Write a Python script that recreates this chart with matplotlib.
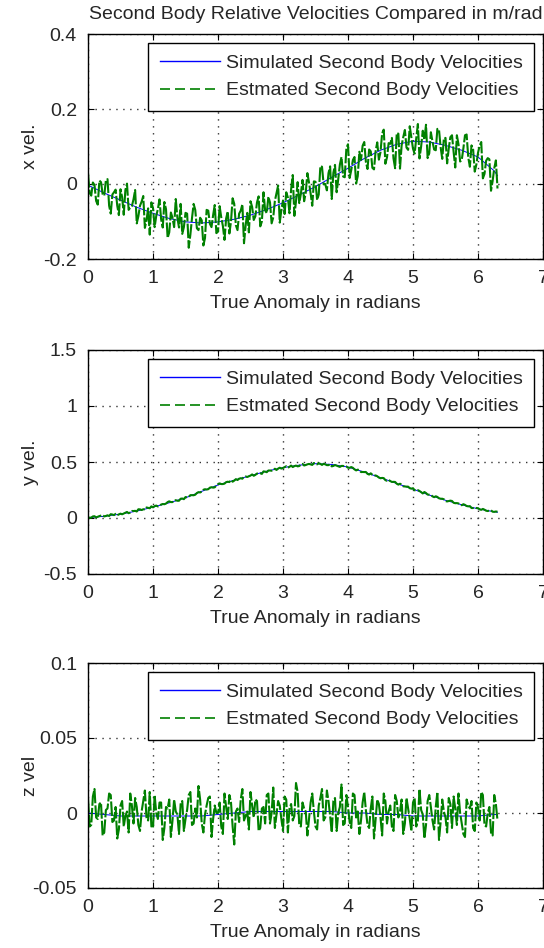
import matplotlib.pyplot as plt
import numpy as np
from matplotlib.lines import Line2D
from matplotlib.ticker import FormatStrFormatter

plt.rcParams["font.family"] = ["Liberation Sans", "DejaVu Sans"]

TITLE = "Second Body Relative Velocities Compared in m/rad"
XLABEL = "True Anomaly in radians"
LEGEND = ["Simulated Second Body Velocities", "Estmated Second Body Velocities"]

# simulated (smooth) curves, sampled every 0.25 rad plus the end point
sim_theta = [0.0, 0.25, 0.5, 0.75, 1.0, 1.25, 1.5, 1.75, 2.0, 2.25, 2.5, 2.75, 3.0,
             3.25, 3.5, 3.75, 4.0, 4.25, 4.5, 4.75, 5.0, 5.25, 5.5, 5.75, 6.0, 6.25, 6.3]
sim_x = [-0.003, -0.024, -0.043, -0.062, -0.078, -0.092, -0.101, -0.104, -0.101,
         -0.094, -0.083, -0.068, -0.050, -0.029, -0.007, 0.018, 0.042, 0.068, 0.090,
         0.106, 0.114, 0.112, 0.103, 0.090, 0.072, 0.035, 0.022]
sim_y = [0.004, 0.015, 0.035, 0.062, 0.097, 0.136, 0.180, 0.238, 0.295, 0.338, 0.378,
         0.418, 0.450, 0.472, 0.485, 0.478, 0.455, 0.410, 0.360, 0.308, 0.258, 0.205,
         0.158, 0.118, 0.082, 0.056, 0.052]
sim_z = [0.000, -0.001, -0.002, -0.002, -0.002, -0.002, -0.002, -0.002, -0.001, 0.000,
         0.001, 0.001, 0.001, 0.001, 0.001, 0.001, 0.000, 0.000, -0.001, -0.001, -0.002,
         -0.002, -0.002, -0.002, -0.002, -0.001, -0.001]

# estimated (noisy) curves: samples on every 0.05 rad (..._on) and the ones
# half-way between them (..._mid), 0 to 6.3 rad
est_x_on = [
    0.029, -0.031, -0.003, -0.055, 0.005, -0.031, 0.013, -0.079, -0.022, -0.058,
    -0.014, -0.082, 0.001, -0.063, -0.041, -0.105, -0.058, -0.032, -0.097, -0.135,
    -0.064, -0.085, -0.041, -0.116, -0.067, -0.129, -0.090, -0.040, -0.116, -0.133,
    -0.077, -0.170, -0.091, -0.069, -0.123, -0.097, -0.144, -0.071, -0.115, -0.056,
    -0.127, -0.089, -0.149, -0.073, -0.100, -0.053, -0.123, -0.071, -0.158, -0.077,
    -0.046, -0.096, -0.049, -0.113, -0.022, -0.078, -0.049, -0.089, -0.025, -0.103,
    -0.044, -0.022, -0.078, 0.024, -0.046, -0.051, 0.011, -0.023, 0.004, -0.058,
    0.006, -0.028, 0.046, 0.000, 0.029, -0.040, 0.051, 0.013, 0.072, 0.018,
    0.106, 0.037, 0.072, 0.021, 0.064, 0.112, 0.040, 0.087, 0.039, 0.111,
    0.085, 0.145, 0.071, 0.107, 0.068, 0.136, 0.041, 0.125, 0.097, 0.154,
    0.094, 0.122, 0.068, 0.142, 0.158, 0.082, 0.113, 0.090, 0.145, 0.067,
    0.123, 0.095, 0.130, 0.044, 0.106, 0.064, 0.130, 0.071, 0.103, 0.033,
    0.083, 0.112, 0.027, 0.069, -0.018, 0.042, -0.012,
]
est_x_mid = [
    -0.024, 0.004, -0.045, 0.009, -0.027, 0.010, -0.058, -0.028, -0.015, -0.083,
    -0.035, -0.016, -0.069, -0.059, -0.016, -0.086, -0.047, -0.117, -0.065, -0.049,
    -0.115, -0.067, -0.094, -0.048, -0.144, -0.076, -0.115, -0.090, -0.053, -0.115,
    -0.079, -0.135, -0.053, -0.118, -0.090, -0.164, -0.069, -0.106, -0.083, -0.131,
    -0.059, -0.112, -0.092, -0.132, -0.038, -0.110, -0.079, -0.054, -0.111, -0.129,
    -0.061, -0.086, -0.033, -0.100, -0.070, -0.034, -0.105, -0.045, -0.004, -0.069,
    -0.080, -0.036, -0.014, -0.085, 0.005, -0.026, -0.046, 0.029, -0.025, 0.007,
    -0.043, 0.048, -0.001, -0.017, 0.047, 0.030, -0.022, 0.052, 0.020, 0.096,
    0.016, 0.064, 0.001, 0.086, 0.102, 0.059, 0.092, 0.043, 0.088, 0.065,
    0.135, 0.054, 0.109, 0.123, 0.042, 0.134, 0.103, 0.144, 0.091, 0.123,
    0.081, 0.160, 0.100, 0.118, 0.069, 0.138, 0.092, 0.147, 0.098, 0.122,
    0.055, 0.125, 0.085, 0.130, 0.060, 0.095, 0.132, 0.046, 0.092, 0.052,
    0.102, 0.015, 0.062, 0.066, 0.008, 0.063,
]
est_y_on = [
    0.007, 0.003, 0.016, 0.011, 0.021, 0.014, 0.024, 0.034, 0.026, 0.025,
    0.039, 0.040, 0.054, 0.049, 0.062, 0.058, 0.077, 0.078, 0.094, 0.087,
    0.095, 0.111, 0.108, 0.125, 0.129, 0.149, 0.142, 0.159, 0.154, 0.174,
    0.187, 0.189, 0.204, 0.208, 0.231, 0.236, 0.257, 0.257, 0.275, 0.274,
    0.301, 0.303, 0.307, 0.324, 0.339, 0.334, 0.339, 0.355, 0.368, 0.366,
    0.379, 0.377, 0.397, 0.399, 0.416, 0.409, 0.424, 0.426, 0.429, 0.449,
    0.447, 0.462, 0.457, 0.455, 0.468, 0.464, 0.483, 0.473, 0.483, 0.474,
    0.487, 0.489, 0.474, 0.479, 0.472, 0.461, 0.473, 0.461, 0.465, 0.459,
    0.449, 0.455, 0.434, 0.432, 0.410, 0.410, 0.394, 0.399, 0.378, 0.373,
    0.355, 0.356, 0.332, 0.330, 0.323, 0.306, 0.306, 0.283, 0.280, 0.266,
    0.266, 0.244, 0.241, 0.219, 0.223, 0.208, 0.193, 0.194, 0.176, 0.172,
    0.151, 0.151, 0.152, 0.132, 0.130, 0.114, 0.117, 0.104, 0.089, 0.093,
    0.088, 0.073, 0.074, 0.062, 0.069, 0.055, 0.056,
]
est_y_mid = [
    0.002, 0.014, 0.005, 0.017, 0.026, 0.018, 0.018, 0.031, 0.037, 0.032,
    0.033, 0.047, 0.043, 0.063, 0.064, 0.078, 0.071, 0.076, 0.091, 0.104,
    0.106, 0.103, 0.120, 0.123, 0.142, 0.142, 0.157, 0.154, 0.172, 0.168,
    0.184, 0.204, 0.203, 0.223, 0.228, 0.252, 0.254, 0.271, 0.271, 0.291,
    0.309, 0.303, 0.320, 0.321, 0.324, 0.347, 0.351, 0.351, 0.371, 0.372,
    0.389, 0.385, 0.397, 0.394, 0.414, 0.424, 0.422, 0.440, 0.441, 0.441,
    0.455, 0.449, 0.468, 0.463, 0.461, 0.476, 0.469, 0.479, 0.478, 0.491,
    0.479, 0.483, 0.484, 0.472, 0.481, 0.465, 0.467, 0.456, 0.465, 0.460,
    0.448, 0.448, 0.425, 0.426, 0.411, 0.411, 0.388, 0.386, 0.380, 0.361,
    0.358, 0.338, 0.340, 0.322, 0.322, 0.298, 0.298, 0.281, 0.280, 0.262,
    0.248, 0.249, 0.231, 0.232, 0.209, 0.206, 0.186, 0.188, 0.172, 0.167,
    0.148, 0.155, 0.136, 0.133, 0.119, 0.123, 0.107, 0.106, 0.089, 0.089,
    0.077, 0.081, 0.065, 0.067, 0.056, 0.058,
]
est_z_on = [
    0.010, -0.008, 0.016, -0.004, 0.007, -0.013, 0.003, 0.012, -0.005, -0.017,
    0.005, -0.009, 0.001, 0.013, -0.007, 0.004, -0.012, 0.008, -0.003, 0.014,
    -0.010, 0.000, 0.007, -0.018, 0.004, 0.009, -0.005, 0.001, -0.014, 0.008,
    -0.004, 0.012, -0.008, 0.003, 0.018, -0.007, -0.001, 0.010, -0.016, 0.005,
    0.000, -0.009, 0.013, -0.004, 0.007, -0.021, 0.003, 0.009, -0.005, 0.001,
    0.014, -0.003, 0.008, -0.010, 0.004, 0.012, -0.007, 0.017, -0.001, 0.005,
    -0.012, 0.009, 0.003, -0.005, 0.020, -0.008, 0.007, 0.001, -0.004, 0.013,
    -0.009, 0.005, 0.016, -0.003, 0.008, -0.013, 0.010, 0.000, 0.019, -0.007,
    0.004, -0.010, 0.012, 0.001, -0.005, 0.014, -0.008, 0.003, -0.017, 0.009,
    -0.003, 0.013, -0.007, 0.005, -0.012, 0.008, 0.001, -0.014, 0.010, -0.004,
    0.007, -0.009, 0.016, -0.001, -0.008, 0.012, -0.005, 0.004, -0.018, 0.009,
    -0.003, 0.010, -0.010, 0.003, 0.013, -0.007, -0.016, 0.005, 0.008, -0.012,
    0.004, 0.014, -0.008, 0.000, -0.013, 0.012, -0.005,
]
est_z_mid = [
    -0.009, 0.011, -0.003, 0.006, -0.015, 0.002, 0.013, -0.006, 0.004, -0.011,
    0.008, -0.002, -0.013, 0.005, 0.010, -0.008, 0.001, 0.015, -0.005, -0.009,
    0.012, -0.004, 0.007, -0.010, 0.003, -0.016, 0.009, -0.001, 0.006, -0.012,
    0.002, 0.014, -0.007, -0.003, 0.009, -0.013, 0.005, 0.011, -0.004, 0.000,
    0.007, -0.014, 0.004, 0.012, -0.009, 0.001, -0.006, 0.016, -0.002, -0.011,
    0.005, 0.009, -0.012, 0.003, -0.007, 0.013, 0.000, -0.010, 0.008, -0.004,
    0.011, -0.013, 0.006, -0.002, 0.014, -0.009, 0.003, -0.015, 0.007, 0.001,
    -0.011, 0.010, -0.005, 0.015, -0.002, 0.008, -0.012, 0.004, -0.008, 0.012,
    -0.006, 0.013, -0.003, -0.014, 0.007, 0.002, -0.010, 0.011, -0.004, 0.006,
    -0.015, 0.008, 0.001, -0.009, 0.012, -0.003, 0.009, -0.007, 0.003, -0.012,
    0.010, -0.005, 0.002, -0.017, 0.008, 0.004, -0.011, 0.014, -0.006, 0.001,
    -0.013, 0.006, 0.011, -0.008, 0.000, -0.014, 0.009, 0.003, -0.010, 0.007,
    -0.005, 0.012, -0.009, 0.004, -0.015, 0.006,
]


def merge(on, mid):
    out = np.empty(len(on) + len(mid))
    out[0::2] = on
    out[1::2] = mid
    return out


est_theta = np.linspace(0, 6.3, 253)
panels = [
    ("x vel.", sim_x, merge(est_x_on, est_x_mid), (-0.2, 0.4), [-0.2, 0, 0.2, 0.4]),
    ("y vel.", sim_y, merge(est_y_on, est_y_mid), (-0.5, 1.5), [-0.5, 0, 0.5, 1, 1.5]),
    ("z vel", sim_z, merge(est_z_on, est_z_mid), (-0.05, 0.1), [-0.05, 0, 0.05, 0.1]),
]

W, H = 544, 948
fig = plt.figure(figsize=(W / 100, H / 100), dpi=100)
boxes = [(34, 259), (350, 574), (663, 888)]
text_color = "#262626"
green = (0, 0.5, 0)

# legend keys drawn like the matlab ones (the plotted noisy line hides its dashes)
handles = [
    Line2D([], [], color="blue", linewidth=1.0),
    Line2D([], [], color=green, linewidth=1.2, linestyle=(0, (6, 3))),
]

for (ylabel, sim, est, ylim, yticks), (top, bottom) in zip(panels, boxes):
    ax = fig.add_axes([88 / W, 1 - bottom / H, (543 - 88) / W, (bottom - top) / H])
    ax.plot(sim_theta, sim, color="blue", linewidth=0.7)
    ax.plot(est_theta, est, color=green, linestyle=(0, (7, 1)), linewidth=1.5)
    ax.set_xlim(0, 7)
    ax.set_ylim(*ylim)
    ax.set_xticks(range(8))
    ax.set_yticks(yticks)
    ax.yaxis.set_major_formatter(FormatStrFormatter("%g"))
    ax.grid(True, color="0.2", linestyle=(0, (1, 4)), linewidth=1.0)
    ax.tick_params(direction="in", top=True, right=True, length=4, width=0.8,
                   labelsize=14, colors="black", labelcolor=text_color, pad=8)
    for s in ax.spines.values():
        s.set_linewidth(1.0)
    ax.set_xlabel(XLABEL, fontsize=14, color=text_color, labelpad=5.5)
    ax.set_ylabel(ylabel, fontsize=14, color=text_color)
    ax.yaxis.set_label_coords(-0.108, 0.5)
    leg = ax.legend(handles, LEGEND, loc="upper right", fontsize=14, handlelength=3.1,
                    fancybox=False, framealpha=1, edgecolor="black",
                    borderaxespad=0.45, borderpad=0.6, labelspacing=0.5,
                    handletextpad=0.3)
    leg.get_frame().set_linewidth(1.0)
    for t in leg.get_texts():
        t.set_color(text_color)
    if top == 34:
        ax.set_title(TITLE, fontsize=14, color=text_color, pad=10.5)

fig.savefig("out.png", dpi=100)
